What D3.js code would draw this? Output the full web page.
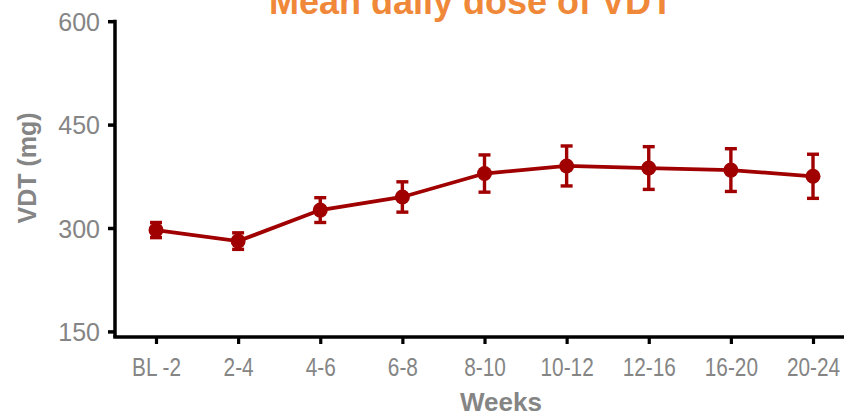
<!DOCTYPE html>
<html>
<head>
<meta charset="utf-8">
<script src="https://cdn.jsdelivr.net/npm/d3@7.9.0/dist/d3.min.js"></script>
<style>
  body { margin: 0; background: #fff; }
  svg { display: block; font-family: Arial, 'Liberation Sans', sans-serif; }
</style>
</head>
<body>
<div id="chart"></div>
<script>
const weeks = ['BL -2', '2-4', '4-6', '6-8', '8-10', '10-12', '12-16', '16-20', '20-24'];
const meanDose = [297, 281, 326, 345, 379, 390, 387, 384, 375];
const semDose = [11, 12, 18, 22, 27, 29, 31, 31, 32];
const yTicks = [150, 300, 450, 600];

const width = 844, height = 415;
const red = '#a00000', grey = '#858585';

const svg = d3.select('#chart')
  .append('svg')
  .attr('width', width)
  .attr('height', height);

const xScale = d3.scalePoint().domain(weeks).range([156, 813]);
const yScale = d3.scaleLinear().domain([150, 600]).range([331.4, 21.2]);
const axisX = 115, axisY = 337;

// y axis
const yAxis = d3.axisLeft(yScale).tickValues(yTicks).tickSize(7).tickPadding(8);
const gy = svg.append('g').attr('transform', `translate(${axisX},0)`).call(yAxis);
gy.select('.domain').remove();
gy.selectAll('.tick line').attr('stroke', '#000').attr('stroke-width', 3.5);
gy.selectAll('.tick text')
  .attr('fill', grey)
  .style('font-size', '25px')
  .attr('dy', '0.36em');
svg.append('line')
  .attr('x1', axisX).attr('x2', axisX)
  .attr('y1', yScale(600) - 1.5).attr('y2', axisY)
  .attr('stroke', '#000').attr('stroke-width', 3.5);

// x axis
const xAxis = d3.axisBottom(xScale).tickSize(7).tickSizeOuter(0).tickPadding(0);
const gx = svg.append('g').attr('transform', `translate(0,${axisY})`).call(xAxis);
gx.select('.domain').remove();
gx.selectAll('.tick line').attr('stroke', '#000').attr('stroke-width', 3.2);
gx.selectAll('.tick text')
  .attr('fill', grey)
  .style('font-size', '26px')
  .attr('y', 0)
  .attr('dy', null)
  .attr('transform', 'translate(0,39) scale(0.8,1)');
svg.append('line')
  .attr('x1', axisX - 1.75).attr('x2', width)
  .attr('y1', axisY).attr('y2', axisY)
  .attr('stroke', '#000').attr('stroke-width', 3.3);

// error bars
const bars = svg.append('g').attr('class', 'errors');
weeks.forEach((w, i) => {
  const x = xScale(w);
  const lo = yScale(meanDose[i] - semDose[i]);
  const hi = yScale(meanDose[i] + semDose[i]);
  bars.append('line').attr('x1', x).attr('x2', x).attr('y1', lo).attr('y2', hi)
    .attr('stroke', red).attr('stroke-width', 3.4);
  [lo, hi].forEach(y => {
    bars.append('line').attr('x1', x - 6).attr('x2', x + 6).attr('y1', y).attr('y2', y)
      .attr('stroke', red).attr('stroke-width', 3.4);
  });
});

// line + markers
const line = d3.line()
  .x((d, i) => xScale(weeks[i]))
  .y(d => yScale(d));
svg.append('path')
  .datum(meanDose)
  .attr('d', line)
  .attr('fill', 'none')
  .attr('stroke', red)
  .attr('stroke-width', 3.8);

svg.append('g').selectAll('circle')
  .data(meanDose)
  .join('circle')
  .attr('cx', (d, i) => xScale(weeks[i]))
  .attr('cy', d => yScale(d))
  .attr('r', 7.5)
  .attr('fill', red);

// titles
svg.append('text')
  .attr('x', 471).attr('y', 14)
  .attr('text-anchor', 'middle')
  .attr('fill', '#f0883a')
  .style('font-size', '36px')
  .style('font-weight', 'bold')
  .text('Mean daily dose of VDT');

svg.append('text')
  .attr('transform', 'translate(36,168) rotate(-90)')
  .attr('text-anchor', 'middle')
  .attr('fill', grey)
  .style('font-size', '25px')
  .style('font-weight', 'bold')
  .text('VDT (mg)');

svg.append('text')
  .attr('x', 501).attr('y', 411)
  .attr('text-anchor', 'middle')
  .attr('fill', grey)
  .style('font-size', '26px')
  .style('font-weight', 'bold')
  .text('Weeks');
</script>
</body>
</html>
